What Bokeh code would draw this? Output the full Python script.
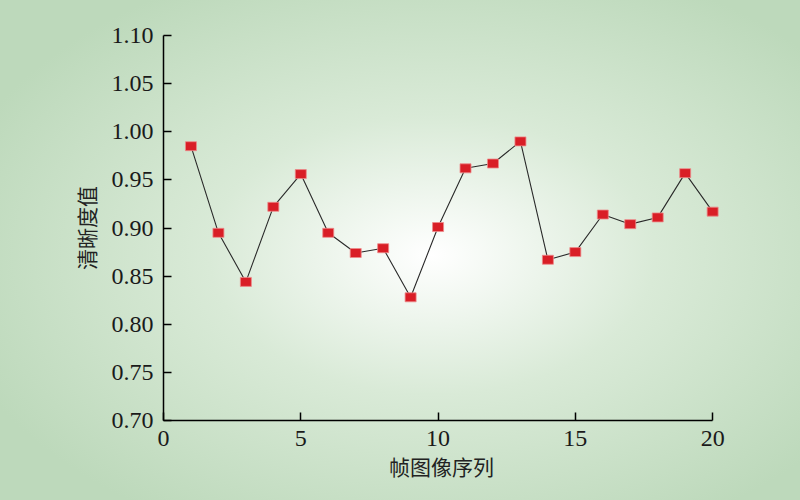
from bokeh.plotting import figure
from bokeh.models import Range1d, FixedTicker, ColumnDataSource
from bokeh.embed import file_html
from bokeh.resources import INLINE

# Data
frame_idx = list(range(1, 21))
clarity = [0.985, 0.895, 0.844, 0.922, 0.956, 0.895, 0.874, 0.879, 0.828, 0.901,
           0.962, 0.967, 0.990, 0.867, 0.875, 0.914, 0.904, 0.911, 0.957, 0.917]
x_ticks = [0, 5, 10, 15, 20]
y_ticks = [0.70, 0.75, 0.80, 0.85, 0.90, 0.95, 1.00, 1.05, 1.10]
y_tick_labels = {t: f"{t:.2f}" for t in y_ticks}
x_title = "帧图像序列"
y_title = "清晰度值"

src = ColumnDataSource(dict(x=frame_idx, y=clarity))

p = figure(width=800, height=500, output_backend="svg", toolbar_location=None,
           x_range=Range1d(0, 20.25), y_range=Range1d(0.70, 1.10),
           min_border_left=163, min_border_right=81, min_border_top=35, min_border_bottom=80)

p.background_fill_color = None
p.border_fill_color = None
p.outline_line_color = None
p.styles = {"background": "radial-gradient(ellipse 62% 62% at 54% 51%, #ffffff 0%, #d9ead7 45%, #bdd9bb 100%)"}

p.xgrid.visible = False
p.ygrid.visible = False

p.line("x", "y", source=src, line_color="#2a2a2a", line_width=1.1)
p.rect("x", "y", source=src, width=11, height=9, width_units="screen", height_units="screen",
       fill_color="#d91e26", line_color="#ee8a8a", line_width=0.8)

serif = "Liberation Serif"
cjk = "Noto Sans CJK SC"

for ax in (p.xaxis[0], p.yaxis[0]):
    ax.axis_line_color = "black"
    ax.axis_line_width = 1.5
    ax.major_tick_line_color = "black"
    ax.major_tick_line_width = 1.5
    ax.major_tick_in = 8
    ax.major_tick_out = 0
    ax.minor_tick_line_color = None
    ax.major_label_text_font = serif
    ax.major_label_text_font_size = "24px"
    ax.major_label_text_color = "#1a1a1a"
    ax.axis_label_text_font = cjk
    ax.axis_label_text_font_size = "21px"
    ax.axis_label_text_font_style = "normal"
    ax.axis_label_text_color = "#222222"

p.xaxis.ticker = FixedTicker(ticks=x_ticks)
p.yaxis.ticker = FixedTicker(ticks=y_ticks)
p.xaxis.bounds = (0, 20)
p.yaxis.major_label_overrides = y_tick_labels
p.xaxis.major_label_standoff = 10
p.yaxis.major_label_standoff = 10
p.xaxis.axis_label = x_title
p.yaxis.axis_label = y_title
p.xaxis.axis_label_standoff = 2
p.yaxis.axis_label_standoff = 8

open("out.html", "w").write(file_html(p, INLINE))
